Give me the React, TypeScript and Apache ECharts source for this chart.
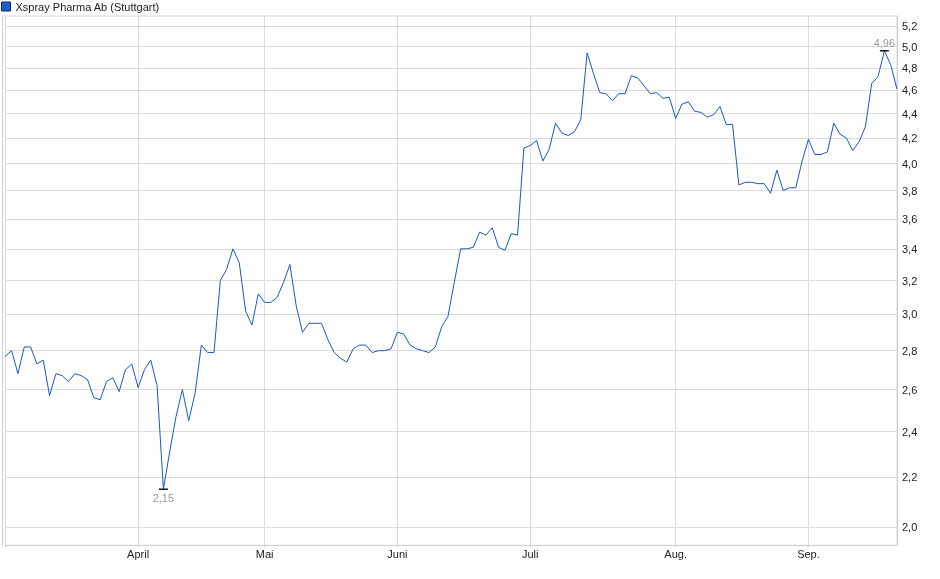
import { useEffect, useRef } from 'react';
import * as echarts from 'echarts';

const title = 'Xspray Pharma Ab (Stuttgart)';
const firstDay = '2025-03-03';
const lastDay = '2025-09-19';
const holidays = ['2025-04-18', '2025-04-21', '2025-05-01'];
const monthNames = ['Jan.', 'Feb.', 'März', 'April', 'Mai', 'Juni', 'Juli', 'Aug.', 'Sep.', 'Okt.', 'Nov.', 'Dez.'];
const yTicks = [2.0, 2.2, 2.4, 2.6, 2.8, 3.0, 3.2, 3.4, 3.6, 3.8, 4.0, 4.2, 4.4, 4.6, 4.8, 5.0, 5.2];

// closing prices, one per trading day
const closes = [
  2.77, 2.8, 2.68, 2.82, 2.82, 2.73, 2.75, 2.57, 2.68, 2.67, 2.64, 2.68, 2.67, 2.65, 2.56, 2.55, 2.64, 2.66, 2.59, 2.7, 2.73,
  2.61, 2.7, 2.75, 2.62, 2.15, 2.31, 2.47, 2.6, 2.45, 2.58, 2.83, 2.79, 2.79, 3.2, 3.27, 3.4, 3.31, 3.02, 2.94, 3.12,
  3.07, 3.07, 3.1, 3.19, 3.3, 3.05, 2.9, 2.95, 2.95, 2.95, 2.86, 2.79, 2.76, 2.74, 2.81, 2.83, 2.83, 2.79, 2.8, 2.8, 2.81,
  2.9, 2.89, 2.83, 2.81, 2.8, 2.79, 2.82, 2.93, 2.99, 3.19, 3.4, 3.4, 3.41, 3.51, 3.49, 3.54, 3.41, 3.39, 3.5, 3.49, 4.12,
  4.14, 4.18, 4.02, 4.11, 4.32, 4.24, 4.22, 4.25, 4.35, 4.94, 4.75, 4.58, 4.57, 4.51, 4.57, 4.57, 4.73, 4.71, 4.64, 4.57, 4.58, 4.53, 4.54,
  4.36, 4.48, 4.5, 4.42, 4.41, 4.37, 4.39, 4.46, 4.31, 4.31, 3.84, 3.86, 3.86, 3.85, 3.85, 3.78, 3.95, 3.8, 3.82, 3.82, 4.02,
  4.19, 4.07, 4.07, 4.09, 4.32, 4.23, 4.2, 4.1, 4.17, 4.29, 4.66, 4.72, 4.96, 4.83, 4.61,
];

function tradingDays() {
  const out: string[] = [];
  const d = new Date(firstDay + 'T00:00:00Z');
  const end = new Date(lastDay + 'T00:00:00Z');
  while (d <= end) {
    const wd = d.getUTCDay();
    const s = d.toISOString().slice(0, 10);
    if (wd !== 0 && wd !== 6 && !holidays.includes(s)) out.push(s);
    d.setUTCDate(d.getUTCDate() + 1);
  }
  return out;
}

const comma = (v: number, n: number) => v.toFixed(n).replace('.', ',');
const font = '"Liberation Sans", Arial, sans-serif';

export default function App() {
  const chartRef = useRef<HTMLDivElement>(null);
  useEffect(() => {
    if (!chartRef.current) return;
    const chart = echarts.init(chartRef.current, undefined, { renderer: 'svg' });
    const dates = tradingDays();
    const isMonthStart = (i: number) => i === 0 || dates[i].slice(5, 7) !== dates[i - 1].slice(5, 7);
    chart.setOption({
      animation: false,
      textStyle: { fontFamily: font },
      legend: {
        left: 0,
        top: 0,
        padding: [1, 1],
        icon: 'rect',
        itemWidth: 9,
        itemHeight: 9,
        selectedMode: false,
        textStyle: { fontSize: 11, color: '#222', fontFamily: font },
        data: [{ name: title, itemStyle: { color: '#1f5bc9', borderColor: '#0b2a66', borderWidth: 1 } }],
      },
      grid: { left: 5.3, right: 43, top: 16, bottom: 33.7, show: true, borderColor: '#d6d6d6', borderWidth: 1 },
      xAxis: {
        type: 'category',
        boundaryGap: false,
        data: dates,
        axisLine: { lineStyle: { color: '#d0d0d0' } },
        axisTick: { interval: (i: number) => isMonthStart(i), length: 2, lineStyle: { color: '#d0d0d0' } },
        splitLine: { show: true, interval: (i: number) => isMonthStart(i), lineStyle: { color: '#dcdcdc' } },
        axisLabel: {
          interval: (i: number) => i > 0 && isMonthStart(i),
          margin: 3,
          fontSize: 11,
          color: '#222',
          fontFamily: font,
          formatter: (v: string) => monthNames[Number(v.slice(5, 7)) - 1],
        },
      },
      yAxis: [
        {
          type: 'log',
          position: 'right',
          min: 1.932,
          max: 5.3,
          axisLine: { show: true, lineStyle: { color: '#d0d0d0' } },
          axisTick: { show: false, customValues: yTicks },
          splitLine: { show: true, lineStyle: { color: '#dcdcdc' } },
          axisLabel: {
            customValues: yTicks,
            margin: 5,
            fontSize: 11,
            color: '#222',
            fontFamily: font,
            formatter: (v: number) => comma(v, 1),
          },
        },
        {
          type: 'value',
          position: 'left',
          offset: 2.6,
          min: 0,
          max: 1,
          axisLine: { show: true, lineStyle: { color: '#d0d0d0' } },
          axisTick: { show: false },
          axisLabel: { show: false },
          splitLine: { show: false },
        },
      ],
      series: [
        {
          name: title,
          type: 'line',
          data: closes,
          showSymbol: false,
          lineStyle: { color: '#1a57c4', width: 1 },
          itemStyle: { color: '#1f5bc9' },
          emphasis: { disabled: true },
          markPoint: {
            symbol: 'rect',
            symbolSize: [9, 1.4],
            silent: true,
            itemStyle: { color: '#000' },
            label: {
              color: '#9a9a9a',
              fontSize: 11,
              fontFamily: font,
              formatter: (p: any) => comma(p.value, 2),
            },
            data: [
              { type: 'max', label: { position: 'top', distance: 2 } },
              { type: 'min', label: { position: 'bottom', distance: 3 } },
            ],
          },
        },
      ],
    });
    return () => chart.dispose();
  }, []);
  return <div ref={chartRef} style={{ position: 'fixed', left: 0, top: 0, width: 940, height: 579 }} />;
}
